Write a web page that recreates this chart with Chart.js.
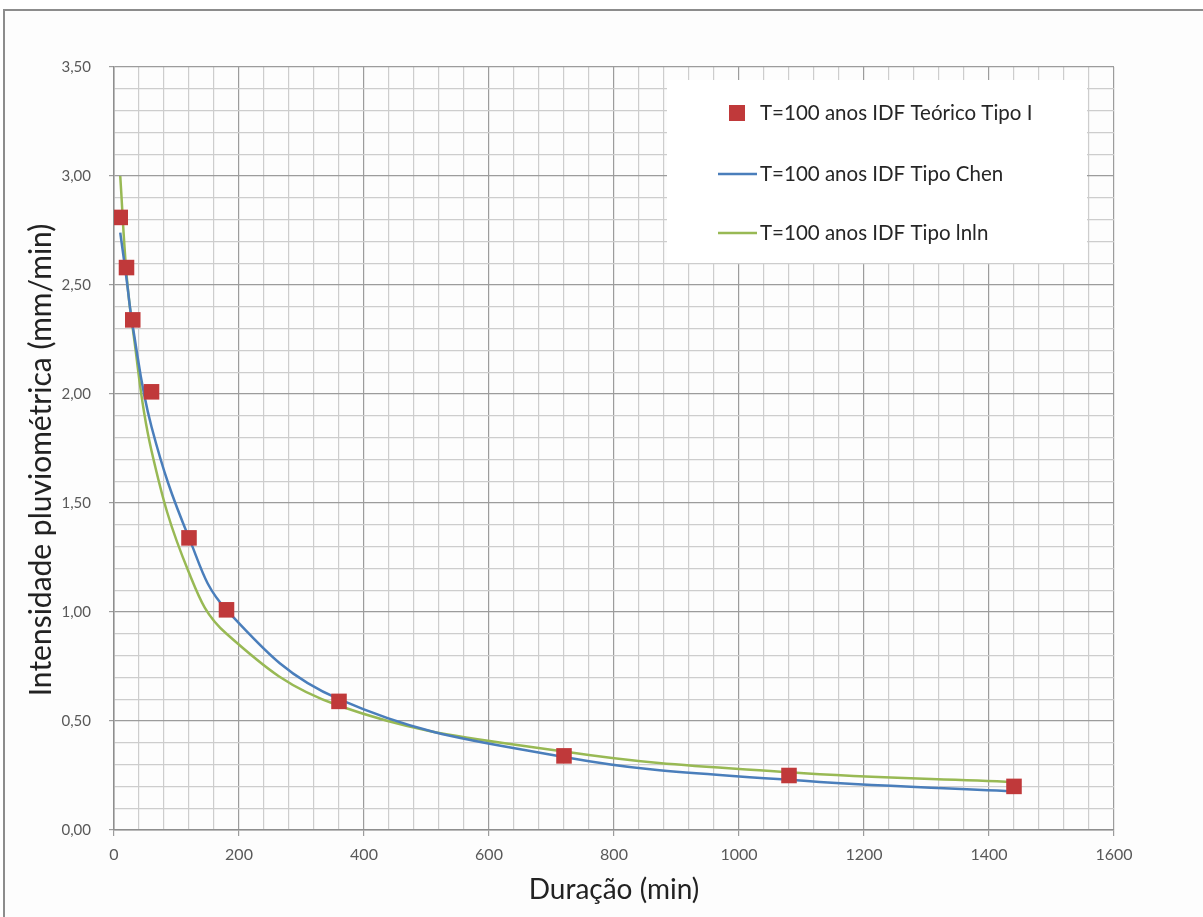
<!DOCTYPE html>
<html>
<head>
<meta charset="utf-8">
<script src="https://cdn.jsdelivr.net/npm/chart.js@4/dist/chart.umd.min.js"></script>
<style>
  html, body { margin: 0; padding: 0; background: #ffffff; }
  #wrap { position: absolute; left: 0; top: 0; width: 1203px; height: 917px; }
</style>
</head>
<body>
<div id="wrap"><canvas id="idfChart" width="1203" height="917"></canvas></div>
<script>
/*---------------------------- IDF curves, T = 100 anos ----------------------------*/

// durações (min)
var duracoes = [10, 20, 30, 60, 120, 180, 360, 720, 1080, 1440];

// intensidades (mm/min)
var teoricoTipoI = [2.81, 2.58, 2.34, 2.01, 1.34, 1.01, 0.59, 0.34, 0.25, 0.20];
var tipoChen     = [2.74, 2.53, 2.31, 1.85, 1.34, 1.01, 0.60, 0.335, 0.23, 0.177];
var tipoLnln     = [3.00, 2.55, 2.30, 1.74, 1.18, 0.90, 0.57, 0.36, 0.265, 0.22];

var seriesNames = [
  "T=100 anos IDF Teórico Tipo I",
  "T=100 anos IDF Tipo Chen",
  "T=100 anos IDF Tipo lnln"
];

var xTickLabels = [0, 200, 400, 600, 800, 1000, 1200, 1400, 1600];
var yTickLabels = [0, 0.5, 1, 1.5, 2, 2.5, 3, 3.5];

var RED = "#c0393a";
var BLUE = "#4a7ebb";
var GREEN = "#98b954";
var FONT = "Lato, 'Open Sans', sans-serif";

function pts(ys) {
  return duracoes.map(function (d, i) { return { x: d, y: ys[i] }; });
}

function isMajorX(v) { return xTickLabels.indexOf(Math.round(v)) >= 0; }
function isMajorY(v) { return yTickLabels.indexOf(Math.round(v * 10) / 10) >= 0; }

// frame round the whole chart, y title, legend box drawn over the grid
var frameAndLegend = {
  id: "frameAndLegend",
  beforeDraw: function (chart) {
    var c = chart.ctx;
    c.save();
    c.fillStyle = "#fdfdfd";
    c.fillRect(4, 10, 1199, 907);
    c.strokeStyle = "#8c8c8c";
    c.lineWidth = 2;
    c.beginPath();
    c.moveTo(4, 917);
    c.lineTo(4, 10);
    c.lineTo(1203, 10);
    c.stroke();

    // y axis title
    c.translate(41, 460);
    c.rotate(-Math.PI / 2);
    c.font = "30px " + FONT;
    c.fillStyle = "#222222";
    c.textAlign = "center";
    c.textBaseline = "middle";
    c.fillText("Intensidade pluviométrica (mm/min)", 0, 0);
    c.restore();
  },
  afterDraw: function (chart) {
    var c = chart.ctx;
    c.save();
    c.fillStyle = "#ffffff";
    c.fillRect(667, 80, 420, 183);

    c.font = "20.5px " + FONT;
    c.textBaseline = "middle";

    // marker item
    c.fillStyle = RED;
    c.fillRect(729, 105, 16, 16);
    c.fillStyle = "#262626";
    c.fillText(seriesNames[0], 760, 113);

    // line items
    var lines = [[BLUE, 174, seriesNames[1]], [GREEN, 233, seriesNames[2]]];
    lines.forEach(function (l) {
      c.strokeStyle = l[0];
      c.lineWidth = 2.5;
      c.beginPath();
      c.moveTo(718, l[1]);
      c.lineTo(757, l[1]);
      c.stroke();
      c.fillText(l[2], 760, l[1]);
    });
    c.restore();
  }
};

new Chart("idfChart", {
  type: "scatter",
  data: {
    datasets: [{
      label: seriesNames[1],
      data: pts(tipoChen),
      showLine: true,
      borderColor: BLUE,
      borderWidth: 2.5,
      pointRadius: 0,
      tension: 0.4,
      order: 2
    }, {
      label: seriesNames[2],
      data: pts(tipoLnln),
      showLine: true,
      borderColor: GREEN,
      borderWidth: 2.5,
      pointRadius: 0,
      tension: 0.4,
      order: 3
    }, {
      label: seriesNames[0],
      data: pts(teoricoTipoI),
      showLine: false,
      pointStyle: "rect",
      pointRadius: 11,
      backgroundColor: RED,
      borderColor: RED,
      borderWidth: 0,
      order: 1
    }]
  },
  options: {
    responsive: false,
    animation: false,
    layout: { padding: { top: 67, right: 89, left: 0, bottom: 0 } },
    plugins: {
      legend: { display: false },
      tooltip: { enabled: false }
    },
    scales: {
      x: {
        type: "linear",
        min: 0,
        max: 1600,
        afterFit: function (s) { s.height = 87; },
        ticks: {
          stepSize: 40,
          autoSkip: false,
          maxRotation: 0,
          padding: 9,
          color: "#595959",
          font: { family: FONT, size: 16 },
          callback: function (v) { return isMajorX(v) ? String(v) : ""; }
        },
        grid: {
          tickLength: 6,
          lineWidth: 1.2,
          color: function (ctx) { return isMajorX(ctx.tick.value) ? "#9c9c9c" : "#cdcdcd"; },
          tickColor: function (ctx) { return isMajorX(ctx.tick.value) ? "#9c9c9c" : "rgba(0,0,0,0)"; }
        },
        border: { color: "#8e8e8e", width: 1.5 },
        title: {
          display: true,
          text: "Duração (min)",
          color: "#222222",
          font: { family: FONT, size: 28 },
          padding: { top: 0, bottom: 10 }
        }
      },
      y: {
        min: 0,
        max: 3.5,
        afterFit: function (s) { s.width = 114; },
        ticks: {
          stepSize: 0.1,
          autoSkip: false,
          padding: 18,
          color: "#595959",
          font: { family: FONT, size: 15 },
          callback: function (v) {
            return isMajorY(v) ? v.toFixed(2).replace(".", ",") : "";
          }
        },
        grid: {
          tickLength: 5,
          lineWidth: 1.2,
          color: function (ctx) { return isMajorY(ctx.tick.value) ? "#9c9c9c" : "#cdcdcd"; },
          tickColor: function (ctx) { return isMajorY(ctx.tick.value) ? "#9c9c9c" : "rgba(0,0,0,0)"; }
        },
        border: { color: "#8e8e8e", width: 1.5 }
      }
    }
  },
  plugins: [frameAndLegend]
});
</script>
</body>
</html>
